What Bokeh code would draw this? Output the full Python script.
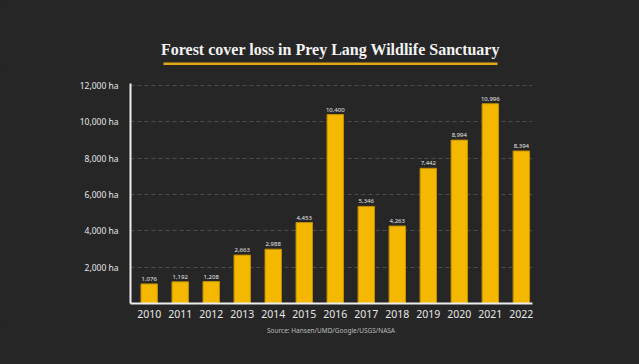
from bokeh.plotting import figure
from bokeh.layouts import column
from bokeh.models import ColumnDataSource, LabelSet, Label, BoxAnnotation, FixedTicker, Range1d
from bokeh.core.properties import value
from bokeh.embed import file_html
from bokeh.resources import INLINE

years = [2010, 2011, 2012, 2013, 2014, 2015, 2016, 2017, 2018, 2019, 2020, 2021, 2022]
loss_ha = [1076, 1192, 1208, 2663, 2988, 4453, 10400, 5346, 4263, 7442, 8994, 10996, 8394]
y_ticks = [2000, 4000, 6000, 8000, 10000, 12000]
title_text = "Forest cover loss in Prey Lang Wildlife Sanctuary"
source_text = "Source: Hansen/UMD/Google/USGS/NASA"

BG = "#262626"
BAR = "#f4b800"
TXT = "#e6e6e6"
W = 639
FRAME_L, FRAME_R = 130, 532


def blank(height):
    # frames of stacked plots are aligned to the main chart's frame (x: 130..532 px)
    f = figure(width=W, height=height, output_backend="svg", toolbar_location=None,
               x_range=Range1d(FRAME_L, FRAME_R), y_range=Range1d(0, height),
               x_axis_location=None, y_axis_location=None,
               min_border_left=FRAME_L, min_border_right=W - FRAME_R,
               min_border_top=0, min_border_bottom=0)
    f.background_fill_color = BG
    f.border_fill_color = BG
    f.outline_line_color = None
    f.grid.grid_line_color = None
    return f


# header: title + yellow rule
head = blank(70)
head.add_layout(Label(x=330, y=21, text=title_text, text_align="center",
                      text_baseline="alphabetic", text_font="Liberation Serif", text_font_style="bold",
                      text_font_size="16px", text_color="#f2f2f2"))
head.add_layout(BoxAnnotation(left=163, right=497, bottom=5.5, top=8,
                              fill_color="#e0a814", fill_alpha=1, line_color=None))

# main chart
src = ColumnDataSource(dict(x=years, y=loss_ha, lab=[f"{v:,}" for v in loss_ha]))

p = figure(width=W, height=253, output_backend="svg", toolbar_location=None,
           x_range=Range1d(2009.397, 2022.36), y_range=Range1d(0, 12110),
           min_border_left=FRAME_L, min_border_right=W - FRAME_R, min_border_top=13, min_border_bottom=20)
p.background_fill_color = BG
p.border_fill_color = BG
p.outline_line_color = None

p.vbar(x="x", top="y", width=0.53, source=src, fill_color=BAR, line_color="#c28f00", line_width=1)

p.add_layout(LabelSet(x="x", y="y", text="lab", source=src, y_offset=3, text_align="center",
                      text_baseline="bottom", text_font=value("Noto Sans"), text_font_size="6px",
                      text_color=TXT))

p.xaxis.ticker = FixedTicker(ticks=years)
p.xaxis.major_tick_line_color = None
p.xaxis.minor_tick_line_color = None
p.xaxis.axis_line_color = "#eeeeee"
p.xaxis.axis_line_width = 2
p.xaxis.major_label_text_font = "Noto Sans"
p.xaxis.major_label_text_font_size = "10.5px"
p.xaxis.major_label_text_color = TXT
p.xaxis.major_label_standoff = 0

p.yaxis.ticker = FixedTicker(ticks=y_ticks)
p.yaxis.major_label_overrides = {t: f"{t:,} ha" for t in y_ticks}
p.yaxis.major_tick_line_color = None
p.yaxis.minor_tick_line_color = None
p.yaxis.axis_line_color = "#eeeeee"
p.yaxis.axis_line_width = 2
p.yaxis.major_label_text_font = "Noto Sans"
p.yaxis.major_label_text_font_size = "8.5px"
p.yaxis.major_label_text_color = TXT
p.yaxis.major_label_standoff = 6

p.xgrid.grid_line_color = None
p.ygrid.ticker = FixedTicker(ticks=y_ticks)
p.ygrid.grid_line_color = "#4d4d4d"
p.ygrid.grid_line_dash = "4 3"
p.ygrid.grid_line_width = 1

# footer: source
foot = blank(41)
foot.add_layout(Label(x=330.5, y=34, text=source_text, text_align="center",
                      text_baseline="alphabetic", text_font="Noto Sans", text_font_size="6.5px",
                      text_color="#bdbdbd"))

layout = column(head, p, foot, spacing=0, styles={"background-color": BG})
open("out.html", "w").write(file_html(layout, INLINE))
